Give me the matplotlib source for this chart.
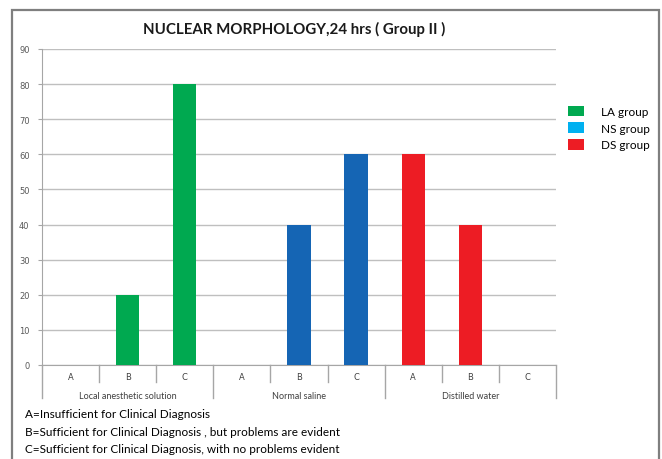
import numpy as np
import matplotlib.pyplot as plt
from matplotlib.patches import Patch, Rectangle

# data
groups = ["Local anesthetic solution", "Normal saline", "Distilled water"]
grades = ["A", "B", "C"]
la_vals = [0, 20, 80]
ns_vals = [0, 40, 60]
ds_vals = [60, 40, 0]
series_names = ["LA group", "NS group", "DS group"]
notes = ["A=Insufficient for Clinical Diagnosis",
         "B=Sufficient for Clinical Diagnosis , but problems are evident",
         "C=Sufficient for Clinical Diagnosis, with no problems evident"]

green = "#00A950"
blue_bar = "#1565B4"
cyan_leg = "#00B0F0"
red = "#ED1C24"
grey = "#A6A6A6"

plt.rcParams['font.family'] = ['Lato', 'DejaVu Sans']

W, H = 662, 460
fig = plt.figure(figsize=(W / 100, H / 100), dpi=100)

# outer frame
fig.patches.append(Rectangle((12 / W, -0.05), (659 - 12) / W, (H - 11) / H + 0.05,
                             transform=fig.transFigure, fill=False,
                             edgecolor="#7F7F7F", lw=1.6))

ax = fig.add_axes([42 / W, (H - 366) / H, (556 - 42) / W, (366 - 50) / H])

n = len(grades)
all_vals = [la_vals, ns_vals, ds_vals]
bar_colors = [green, blue_bar, red]
for g, vals in enumerate(all_vals):
    x = np.arange(n) + g * n + 0.5
    ax.bar(x, vals, width=0.41, color=bar_colors[g], zorder=3)

ax.set_xlim(0, n * len(groups))
ax.set_ylim(0, 90)
ax.set_yticks(np.arange(0, 91, 10))
ax.yaxis.grid(True, color="#BFBFBF", lw=1.0)
ax.set_axisbelow(True)
ax.tick_params(axis='y', labelsize=6, colors="#595959", length=3, color=grey, pad=6)
for lbl in ax.get_yticklabels():
    lbl.set_fontfamily('DejaVu Sans')
ax.set_xticks([])
for s in ["top", "right"]:
    ax.spines[s].set_visible(False)
ax.spines["left"].set_color(grey)
ax.spines["bottom"].set_color(grey)

# category axis: grade labels, group labels, separators
tr = ax.get_xaxis_transform()
short_drop = -17 / 316
long_drop = -33 / 316
for k in range(n * len(groups) + 1):
    drop = long_drop if k % n == 0 else short_drop
    ax.plot([k, k], [0, drop], transform=tr, color=grey, lw=1.0, clip_on=False)
for g, name in enumerate(groups):
    for i, gr in enumerate(grades):
        ax.text(g * n + i + 0.5, -12 / 316, gr, transform=tr, ha="center", va="center",
                fontsize=6, color="#404040", family='DejaVu Sans')
    ax.text(g * n + n / 2, -31 / 316, name, transform=tr, ha="center", va="center",
            fontsize=6.5, color="#404040")

fig.text(294 / W, 1 - 29 / H, "NUCLEAR MORPHOLOGY,24 hrs ( Group II )",
         ha="center", va="center", fontsize=10.8, fontweight="bold", color="#1a1a1a")

handles = [Patch(facecolor=c, edgecolor="none") for c in [green, cyan_leg, red]]
fig.legend(handles, series_names, loc="upper left", bbox_to_anchor=(563 / W, 1 - 102 / H),
           frameon=False, fontsize=8.5, handlelength=1.4, handleheight=1.0,
           handletextpad=1.4, labelspacing=0.45, borderaxespad=0)

for i, t in enumerate(notes):
    fig.text(25 / W, 1 - (415 + 17.5 * i) / H, t, ha="left", va="center",
             fontsize=8.5, color="#000000")

fig.savefig("out.png", dpi=100)
